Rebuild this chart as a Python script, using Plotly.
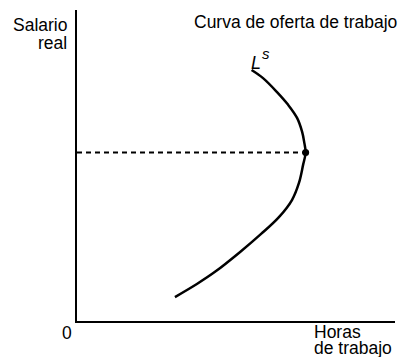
import plotly.graph_objects as go

# labour supply curve (hours 0-10, real wage 0-10)
hours = [5.49, 5.85, 6.29, 6.64, 6.92, 7.08, 7.15, 7.19,
         7.11, 6.98, 6.76, 6.35, 5.79, 5.13, 4.34, 3.77, 3.08]
wage = [8.07, 7.81, 7.36, 6.95, 6.53, 6.08, 5.72, 5.42,
        5.02, 4.44, 3.89, 3.34, 2.80, 2.22, 1.58, 1.19, 0.77]

point_hours = 7.19
point_wage = 5.42

font = "Liberation Sans, Arial, sans-serif"

fig = go.Figure()

# dashed guide to the wage axis
fig.add_trace(go.Scatter(x=[0, point_hours], y=[point_wage, point_wage], mode="lines",
                         line=dict(color="black", width=2, dash="5px,4px"), hoverinfo="skip"))

fig.add_trace(go.Scatter(x=hours, y=wage, mode="lines",
                         line=dict(color="black", width=2.5, shape="spline", smoothing=1),
                         hoverinfo="skip"))

fig.add_trace(go.Scatter(x=[point_hours], y=[point_wage], mode="markers",
                         marker=dict(color="black", size=7), hoverinfo="skip"))

# curve label L^s
fig.add_annotation(x=5.41, y=8.30, xref="x", yref="y", text="<i>L</i>",
                   showarrow=False, xanchor="left", yanchor="middle", font=dict(size=18))
fig.add_annotation(x=5.77, y=8.59, xref="x", yref="y", text="<i>s</i>",
                   showarrow=False, xanchor="left", yanchor="middle", font=dict(size=15))

# texts outside the plot, placed in paper units
labels = [
    ("Salario", -0.028, 0.952, "right"),
    ("real", -0.028, 0.894, "right"),
    ("Curva de oferta de trabajo", 1.01, 0.961, "right"),
    ("0", -0.031, -0.039, "center"),
    ("Horas", 0.742, -0.035, "left"),
    ("de trabajo", 0.742, -0.088, "left"),
]
for text, x, y, anchor in labels:
    fig.add_annotation(x=x, y=y, xref="paper", yref="paper", text=text,
                       showarrow=False, xanchor=anchor, yanchor="middle", borderpad=0)

fig.update_layout(
    width=398, height=357,
    margin=dict(l=77, r=3, t=10, b=36),
    plot_bgcolor="white", paper_bgcolor="white",
    showlegend=False,
    font=dict(family=font, size=17.5, color="black"),
    xaxis=dict(range=[0, 10], showgrid=False, zeroline=False, showticklabels=False,
               showline=True, linecolor="black", linewidth=2, fixedrange=True),
    yaxis=dict(range=[0, 10], showgrid=False, zeroline=False, showticklabels=False,
               showline=True, linecolor="black", linewidth=2, fixedrange=True),
)

fig.write_html("out.html", config={"displayModeBar": False},
               post_script="document.body.style.margin = '0';")
